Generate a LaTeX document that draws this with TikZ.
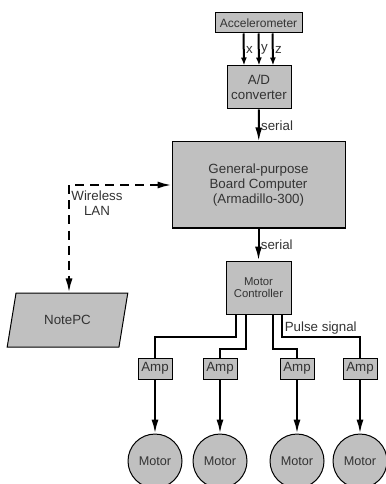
\documentclass[tikz,border=0pt]{standalone}
\usepackage{fontspec}
\setmainfont{Liberation Sans}
\usepackage{tikz}
\usetikzlibrary{shapes, arrows.meta, positioning, calc}
\definecolor{boxgray}{HTML}{C0C0C0}
\definecolor{inkgray}{HTML}{333333}
\tikzstyle{block} = [draw, rectangle, fill=boxgray, text=inkgray, align=center, inner sep=0pt, line width=0.75pt]
\tikzstyle{amp} = [block, minimum width=25.5pt, minimum height=15.75pt]
\tikzstyle{motor} = [draw, circle, fill=boxgray, text=inkgray, minimum size=40.5pt, inner sep=0pt, line width=0.75pt, font=\fontsize{9.5}{11}\selectfont]
\tikzstyle{wire} = [line width=1.5pt]
\tikzstyle{flow} = [wire, -{Latex[length=10.5pt, width=5.25pt]}]
\tikzstyle{lbl} = [text=inkgray, inner sep=1pt]

\begin{document}
\begin{tikzpicture}[x=0.75pt, y=-0.75pt, font=\fontsize{10}{11.25}\selectfont]
    \useasboundingbox (0,0) rectangle (385,484);
    \node[block, minimum width=65.25pt, minimum height=15pt, font=\fontsize{9}{10}\selectfont] (accel) at (258.5,23) {Accelerometer};
    \node[block, minimum width=48pt, minimum height=32.25pt] (adc) at (259,87.5) {A/D\\converter};
    \node[block, minimum width=129.75pt, minimum height=64.5pt] (board) at (258.5,185) {General-purpose\\Board Computer\\(Armadillo-300)};
    \node[block, minimum width=48.75pt, minimum height=39.75pt, font=\fontsize{8.5}{9}\selectfont] (mc) at (258.5,287.5) {Motor\\Controller};
    \node[draw, trapezium, trapezium left angle=67, trapezium right angle=113, trapezium stretches=true, minimum width=90.75pt, minimum height=40.5pt, fill=boxgray, text=inkgray, line width=0.75pt, inner sep=0pt] (notepc) at (67.5,320) {NotePC};
    \node[amp] (amp1) at (155,368.5) {Amp};
    \node[amp] (amp2) at (220,368.5) {Amp};
    \node[amp] (amp3) at (297,368.5) {Amp};
    \node[amp] (amp4) at (360,368.5) {Amp};
    \foreach \i in {1,...,4}
        \node[motor, below of = amp\i, node distance=69.4pt] (motor\i) {Motor};

    % sensor axes
    \foreach \dx/\axis in {-15/x, 0/y, 14/z}
        \draw[wire, -{Latex[length=6pt, width=4.5pt]}] ($(accel.south)+(\dx,0)$) -- node[right, lbl] {\axis} ($(adc.north)+(\dx,0)$);
    \draw[flow] (adc) -- node[right, lbl] {serial} (board);
    \draw[flow] (board) -- node[right, lbl] {serial} (mc);

    % wireless link
    \coordinate (lanbend) at (69,185);
    \draw[wire, dash pattern=on 6.75pt off 4.5pt, {Latex[length=10.5pt, width=5.25pt]}-{Latex[length=10.5pt, width=5.25pt]}] (board.west) -- (lanbend) -- (lanbend |- notepc.north);
    \node[lbl, align=center] (wlan) at (97,203) {Wireless\\LAN};

    % pulse lines to the amps
    \draw[wire] ($(mc.south)+(-23,0)$) -- ++(0,22) -| (amp1.north);
    \draw[wire] ($(mc.south)+(-13,0)$) -- ++(0,34) -| (amp2.north);
    \draw[wire] ($(mc.south)+(14,0)$) -- ++(0,34) -| (amp3.north);
    \draw[wire] ($(mc.south)+(23,0)$) -- ++(0,22) -| node[pos=0.25, above, lbl] {Pulse signal} (amp4.north);
    \foreach \i in {1,...,4}
        \draw[flow] (amp\i) -- (motor\i);
\end{tikzpicture}
\end{document}
